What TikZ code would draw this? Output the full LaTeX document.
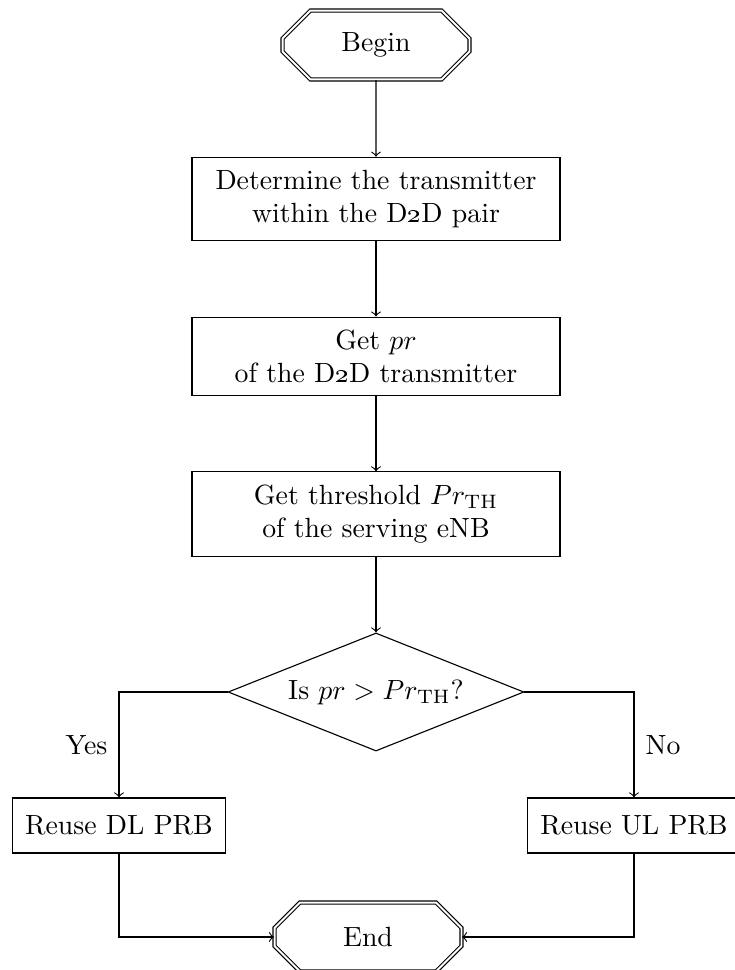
\documentclass[tikz,border=0pt]{standalone}
\usetikzlibrary{shapes.misc,shapes.geometric}
\begin{document}
\begin{tikzpicture}[x=0.36pt,y=-0.36pt,
  term/.style={chamfered rectangle, chamfered rectangle xsep=5.6pt, chamfered rectangle ysep=5.6pt, draw, double, double distance=0.7pt,
    minimum width=67.3pt, minimum height=24.8pt, inner sep=0pt},
  proc/.style={rectangle, draw, align=center, inner xsep=6.5pt, inner ysep=4.6pt, minimum height=19.8pt},
  wideproc/.style={proc, minimum width=132.5pt},
  shortproc/.style={proc, inner xsep=4.6pt},
  dec/.style={diamond, draw, aspect=2.5, minimum width=106.5pt, minimum height=42.5pt, inner sep=1pt},
  flow/.style={->},
  lbl/.style={inner sep=4pt}]
\useasboundingbox (0,0) rectangle (735,970);
\node[term] (begin) at (376,45) {Begin};
\node[wideproc] (p1) at (376,199) {Determine the transmitter\\within the D\oldstylenums{2}D pair};
\node[wideproc] (p2) at (376,356.5) {Get $pr$\\of the D\oldstylenums{2}D transmitter};
\node[wideproc] (p3) at (376,514) {Get threshold $Pr_{\mathrm{TH}}$\\of the serving eNB};
\node[dec] (d) at (376,692) {Is $pr > Pr_{\mathrm{TH}}$?};
\node[shortproc] (dl) at (119,825.5) {Reuse DL PRB};
\node[shortproc] (ul) at (634,825.5) {Reuse UL PRB};
\node[term] (end) at (368,937) {End};
\draw[flow] (begin) -- (p1);
\draw[flow] (p1) -- (p2);
\draw[flow] (p2) -- (p3);
\draw[flow] (p3) -- (d);
\draw[flow] (d.west) -| node[pos=0.75, left, lbl] {Yes} (dl.north);
\draw[flow] (d.east) -| node[pos=0.75, right, lbl] {No} (ul.north);
\draw[flow] (dl.south) |- (end.west);
\draw[flow] (ul.south) |- (end.east);
\end{tikzpicture}
\end{document}
